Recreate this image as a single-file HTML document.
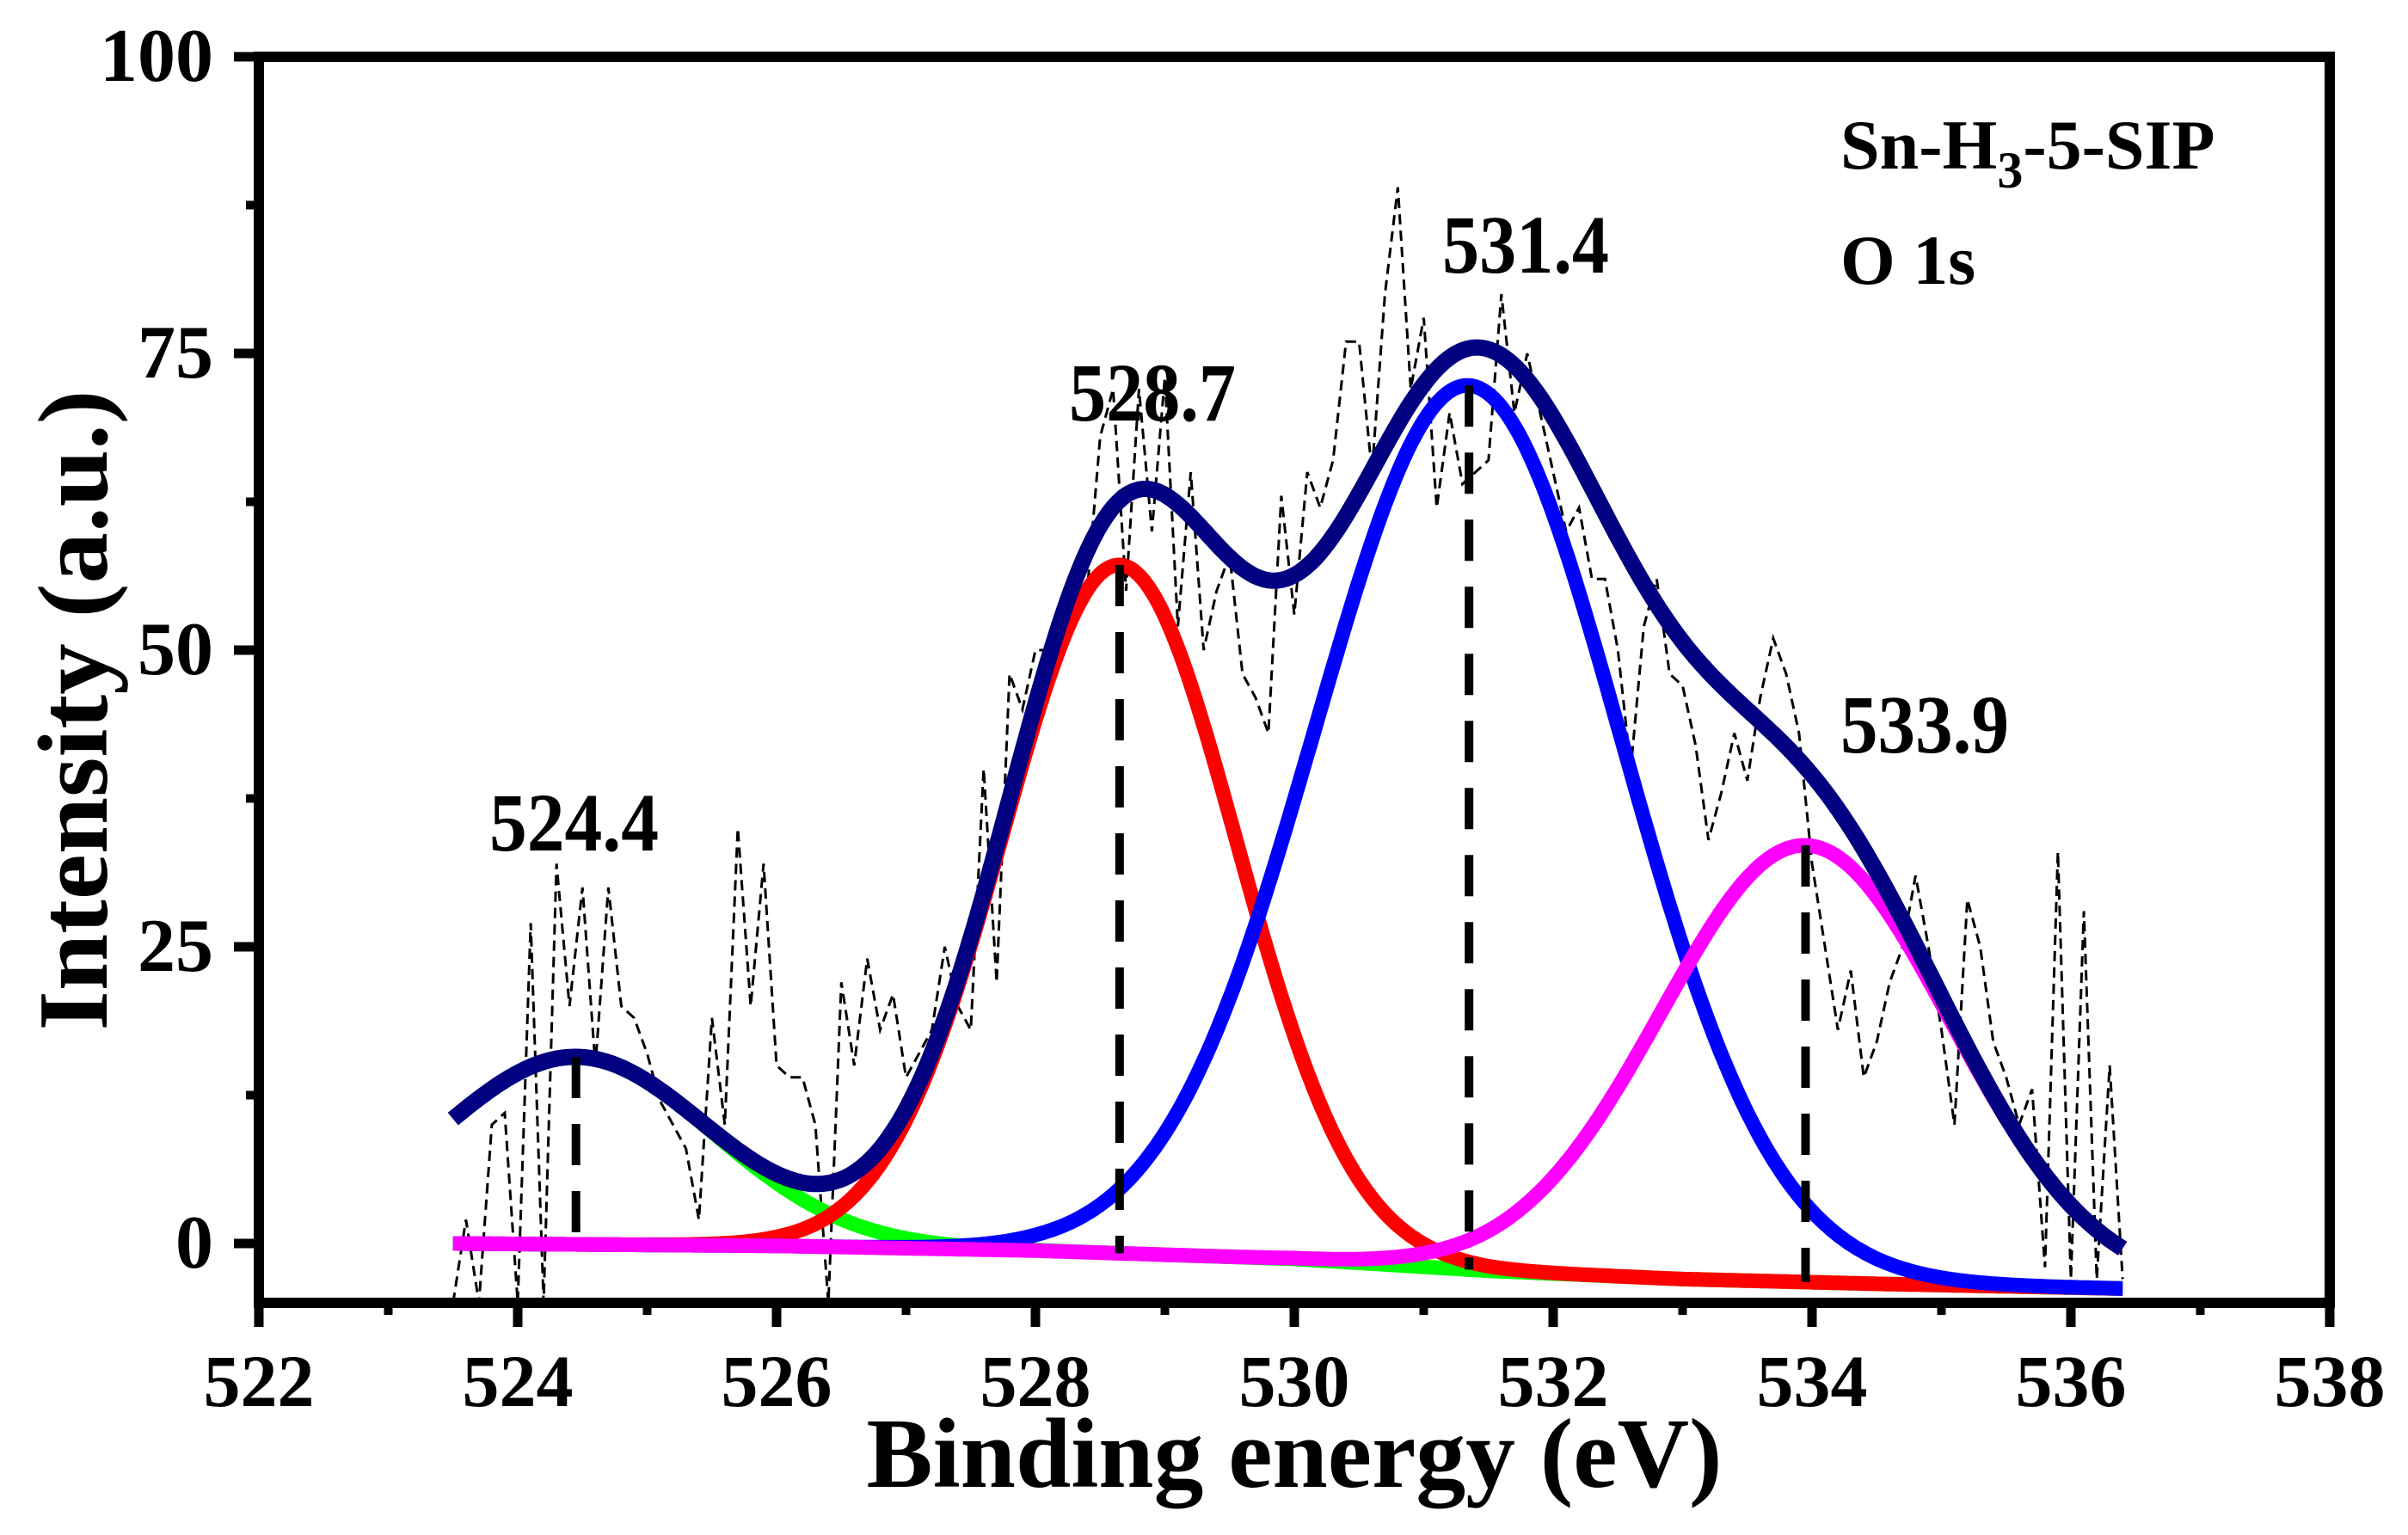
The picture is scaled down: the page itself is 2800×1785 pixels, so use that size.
<!DOCTYPE html>
<html><head><meta charset="utf-8"><style>
html,body{margin:0;padding:0;background:#fff;}
svg{display:block;}
text{font-family:"Liberation Serif","Times New Roman",serif;font-weight:bold;fill:#000;}
</style></head><body>
<svg id="chart" width="2800" height="1785" viewBox="0 0 2800 1785" xmlns="http://www.w3.org/2000/svg">
<defs><clipPath id="plotclip"><rect x="307" y="72" width="2396" height="1437"/></clipPath></defs>
<g id="plot" clip-path="url(#plotclip)"></g>
<g id="axes"></g>
<text x="1505" y="1729" font-size="116" text-anchor="middle" textLength="995" lengthAdjust="spacingAndGlyphs">Binding energy (eV)</text>
<text transform="translate(124,826) rotate(-90)" font-size="116" text-anchor="middle" textLength="745" lengthAdjust="spacingAndGlyphs">Intensity (a.u.)</text>
<text x="2140" y="196" font-size="82">Sn-H<tspan font-size="60" dy="22">3</tspan><tspan dy="-22">-5-SIP</tspan></text>
<text x="2140" y="330" font-size="82">O 1s</text>
<g id="peaklabels"></g>
</svg>
<script>
const xTicks = [522,524,526,528,530,532,534,536,538];
const yTicks = [0,25,50,75,100];
const peakNames = ['green','red','blue','magenta'];
const peakCenters = [524.45, 528.65, 531.35, 533.95];
const peakHeights = [15.8, 58, 74.5, 36.8];
const peakWidths = [1.05, 0.9, 1.18, 1.12];
const peakColors = ['#00ff00','#ff0000','#0000ff','#ff00ff'];
const peakLabels = ['524.4','528.7','531.4','533.9'];
const bgX = [523.5,526,528,530,531.5,533,534.5,536.4];
const bgY = [0,-0.2,-0.6,-1.3,-2.3,-3.0,-3.4,-3.8];
const rawStart = 523.5, rawStep = 0.1;
const rawY = [-5,2,-5,10,11,-5,27,-5,32,20,30,15,30,20,19,16,12,10,8,2,19,10,35,20,32,15,14,14,10,-5,22,15,24,18,21,14,16,18,25,20,18,40,22,48,45,50,50,50,53,55,68,72,55,72,60,73,52,65,50,55,58,48,46,43,63,53,65,62,66,76,76,65,80,89,72,78,62,70,64,65,66,80,70,75,70,65,60,62,56,56,50,40,52,56,48,47,42,34,38,43,39,46,51,48,43,32,25,18,23,14,17,22,25,31,25,18,10,29,25,17,14,10,13,-2,33,-3,28,-3,15,-3];

const X0=522,X1=538,PX0=301,PX1=2709;
const Y0=-5,Y1=100,PY0=1515,PY1=66;
const sx=v=>PX0+(v-X0)*(PX1-PX0)/(X1-X0);
const sy=v=>PY0+(v-Y0)*(PY1-PY0)/(Y1-Y0);
const NS='http://www.w3.org/2000/svg';
function mk(tag,attrs,parent){const e=document.createElementNS(NS,tag);for(const k in attrs)e.setAttribute(k,attrs[k]);parent.appendChild(e);return e;}
function bg(x){if(x<=bgX[0])return bgY[0];for(let i=1;i<bgX.length;i++){if(x<=bgX[i]){const t=(x-bgX[i-1])/(bgX[i]-bgX[i-1]);return bgY[i-1]+t*(bgY[i]-bgY[i-1]);}}return bgY[bgY.length-1];}
function gauss(i,x){return peakHeights[i]*Math.exp(-Math.pow(x-peakCenters[i],2)/(2*peakWidths[i]*peakWidths[i]));}
const plot=document.getElementById('plot');
const axes=document.getElementById('axes');
const xmin=bgX[0], xmax=bgX[bgX.length-1];
const samples=[];for(let x=xmin;x<=xmax+1e-9;x+=0.02)samples.push(x);

let d='';rawY.forEach((v,i)=>{const x=rawStart+i*rawStep;d+=(i?'L':'M')+sx(x).toFixed(1)+','+sy(v).toFixed(1);});
const raw=mk('path',{d:d,fill:'none',stroke:'#000','stroke-width':3,'stroke-dasharray':'12,7'},plot);



[0,1,2,3].forEach(i=>{
  let p='';samples.forEach((x,k)=>{p+=(k?'L':'M')+sx(x).toFixed(1)+','+sy(bg(x)+gauss(i,x)).toFixed(1);});
  const el=mk('path',{d:p,fill:'none',stroke:peakColors[i],'stroke-width':17,'stroke-linejoin':'round'},plot);
  
  
});
let ep='';samples.forEach((x,k)=>{let s=bg(x);for(let i=0;i<4;i++)s+=gauss(i,x);ep+=(k?'L':'M')+sx(x).toFixed(1)+','+sy(s).toFixed(1);});
const env=mk('path',{d:ep,fill:'none',stroke:'#000080','stroke-width':19,'stroke-linejoin':'round'},plot);



const lblPos=[[569,989,197],[1243,489,194],[1677,317,194],[2140,875,196]];
const pl=document.getElementById('peaklabels');
for(let i=0;i<4;i++){
  const c=peakCenters[i];
  const top=bg(c)+gauss(i,c);
  const m=mk('line',{x1:sx(c),x2:sx(c),y1:sy(top),y2:sy(bg(c)),stroke:'#000','stroke-width':10,'stroke-dasharray':'48,30'},plot);
  
  
  const t=mk('text',{x:lblPos[i][0],y:lblPos[i][1],'font-size':96,textLength:lblPos[i][2],lengthAdjust:'spacingAndGlyphs'},pl);
  t.textContent=peakLabels[i];
  
  
}

const frame=mk('rect',{x:301,y:66,width:2408,height:1449,fill:'none',stroke:'#000','stroke-width':12},axes);


xTicks.forEach((v,i)=>{
  const tk=mk('line',{x1:sx(v),x2:sx(v),y1:1515,y2:1543,stroke:'#000','stroke-width':11},axes);
  
  
  const t=mk('text',{x:sx(v),y:1635,'font-size':86,'text-anchor':'middle'},axes);
  t.textContent=v;
  
  
  if(i<xTicks.length-1){
    const mv=v+1;
    const mt=mk('line',{x1:sx(mv),x2:sx(mv),y1:1515,y2:1529,stroke:'#000','stroke-width':10},axes);
    
    
  }
});
yTicks.forEach((v,i)=>{
  const tk=mk('line',{x1:272,x2:301,y1:sy(v),y2:sy(v),stroke:'#000','stroke-width':11},axes);
  
  
  const t=mk('text',{x:248,y:sy(v)+28,'font-size':88,'text-anchor':'end'},axes);
  t.textContent=v;
  
  
  if(i<yTicks.length-1){
    const mv=v+12.5;
    const mt=mk('line',{x1:286,x2:301,y1:sy(mv),y2:sy(mv),stroke:'#000','stroke-width':10},axes);
    
    
  }
});
</script>
</body></html>
